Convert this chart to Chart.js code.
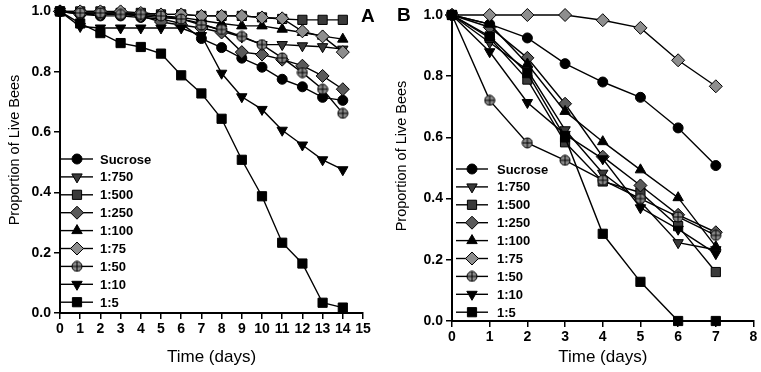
<!DOCTYPE html>
<html>
<head>
<meta charset="utf-8">
<script src="https://cdn.jsdelivr.net/npm/chart.js@4.4.0/dist/chart.umd.min.js"></script>
<style>
  body { margin: 0; background: #fff; width: 761px; height: 372px; position: relative; overflow: hidden; }
  canvas { position: absolute; top: 0; }
  #chartA { left: 0; }
  #chartB { left: 380px; }
</style>
</head>
<body>
<canvas id="chartA" width="380" height="372"></canvas>
<canvas id="chartB" width="381" height="372"></canvas>
<script>
// series names (legend order)
const seriesNames = ['Sucrose', '1:750', '1:500', '1:250', '1:100', '1:75', '1:50', '1:10', '1:5'];

// panel A: days 0-14
const daysA = [0, 1, 2, 3, 4, 5, 6, 7, 8, 9, 10, 11, 12, 13, 14];
const sucroseA = [1.00, 0.99, 0.985, 0.985, 0.98, 0.975, 0.96, 0.91, 0.88, 0.845, 0.815, 0.775, 0.75, 0.715, 0.705];
const r750A = [1.00, 0.995, 0.99, 0.99, 0.985, 0.98, 0.975, 0.96, 0.935, 0.915, 0.89, 0.89, 0.886, 0.883, 0.875];
const r500A = [1.00, 1.00, 1.00, 0.995, 0.995, 0.99, 0.99, 0.985, 0.985, 0.985, 0.98, 0.975, 0.972, 0.972, 0.972];
const r250A = [1.00, 0.99, 0.99, 0.99, 0.985, 0.965, 0.955, 0.945, 0.93, 0.865, 0.857, 0.84, 0.82, 0.786, 0.742];
const r100A = [1.00, 0.995, 0.995, 0.995, 0.99, 0.985, 0.98, 0.97, 0.96, 0.952, 0.952, 0.941, 0.93, 0.918, 0.908];
const r75A = [1.00, 1.00, 1.00, 1.00, 0.995, 0.99, 0.99, 0.985, 0.985, 0.985, 0.98, 0.977, 0.934, 0.917, 0.865];
const r50A = [1.00, 0.995, 0.995, 0.99, 0.99, 0.985, 0.975, 0.955, 0.94, 0.917, 0.89, 0.846, 0.797, 0.742, 0.662];
const r10A = [1.00, 0.95, 0.945, 0.945, 0.945, 0.945, 0.945, 0.92, 0.795, 0.717, 0.675, 0.606, 0.557, 0.508, 0.475];
const r5A = [1.00, 0.96, 0.928, 0.895, 0.882, 0.86, 0.788, 0.728, 0.644, 0.508, 0.387, 0.233, 0.164, 0.034, 0.018];

// panel B: days 0-7
const daysB = [0, 1, 2, 3, 4, 5, 6, 7];
const sucroseB = [1.00, 0.97, 0.925, 0.841, 0.781, 0.731, 0.631, 0.508];
const r750B = [1.00, 0.91, 0.82, 0.625, 0.483, 0.39, 0.256, 0.233];
const r500B = [1.00, 0.925, 0.789, 0.584, 0.456, 0.42, 0.31, 0.16];
const r250B = [1.00, 0.96, 0.86, 0.71, 0.537, 0.443, 0.347, 0.29];
const r100B = [1.00, 0.97, 0.84, 0.685, 0.586, 0.494, 0.403, 0.243];
const r75B = [1.00, 1.00, 1.00, 1.00, 0.983, 0.958, 0.852, 0.767];
const r50B = [1.00, 0.721, 0.582, 0.525, 0.46, 0.40, 0.34, 0.28];
const r10B = [1.00, 0.88, 0.714, 0.61, 0.53, 0.37, 0.30, 0.22];
const r5B = [1.00, 0.93, 0.81, 0.60, 0.285, 0.128, 0.0, 0.0];

// axis ranges
const xMaxA = 15, xMaxB = 8;
const yMin = 0, yMax = 1, yStep = 0.2;

const FONT = "'Liberation Sans', Arial, sans-serif";
Chart.defaults.font.family = FONT;
Chart.defaults.color = '#000';

// circle with cross marker for 1:50
function crossCircle() {
  const c = document.createElement('canvas');
  c.width = 12; c.height = 12;
  const g = c.getContext('2d');
  g.beginPath(); g.arc(6, 6, 5, 0, Math.PI * 2);
  g.fillStyle = '#8a8a8a'; g.fill();
  g.lineWidth = 1; g.strokeStyle = '#000'; g.stroke();
  g.beginPath(); g.moveTo(6, 1); g.lineTo(6, 11); g.moveTo(1, 6); g.lineTo(11, 6); g.stroke();
  return c;
}
const crossImg = crossCircle();

// marker look per series
const markers = [
  { style: 'circle', rot: 0, r: 5, fill: '#000' },
  { style: 'triangle', rot: 180, r: 6, fill: '#3a3a3a' },
  { style: 'rect', rot: 0, r: 6.5, fill: '#3a3a3a' },
  { style: 'rectRot', rot: 0, r: 6.5, fill: '#5a5a5a' },
  { style: 'triangle', rot: 0, r: 6, fill: '#000' },
  { style: 'rectRot', rot: 0, r: 6.5, fill: '#8e8e8e' },
  { style: crossImg, rot: 0, r: 6, fill: '#8a8a8a' },
  { style: 'triangle', rot: 180, r: 6, fill: '#000' },
  { style: 'rect', rot: 0, r: 6.5, fill: '#000' }
];

function makeSets(days, arrays) {
  return arrays.map((vals, i) => ({
    label: seriesNames[i],
    data: days.map((d, k) => ({ x: d, y: vals[k] })),
    showLine: true,
    borderColor: '#000',
    borderWidth: 1.4,
    pointStyle: markers[i].style,
    rotation: markers[i].rot,
    pointRadius: markers[i].r,
    pointBackgroundColor: markers[i].fill,
    pointBorderColor: '#000',
    pointBorderWidth: 1,
    clip: false
  })).reverse();
}

// legend drawn inside the plot, y title and panel letter
const legendPlugin = {
  id: 'inLegend',
  afterDraw(chart, args, opts) {
    const ctx = chart.ctx;
    ctx.save();
    const sets = chart.data.datasets.slice().reverse();
    sets.forEach((ds, i) => {
      const y = opts.top + i * 17.9;
      ctx.strokeStyle = '#000';
      ctx.lineWidth = 1.4;
      ctx.beginPath(); ctx.moveTo(opts.x1, y); ctx.lineTo(opts.x2, y); ctx.stroke();
      ctx.fillStyle = ds.pointBackgroundColor;
      ctx.strokeStyle = '#000';
      ctx.lineWidth = 1;
      Chart.helpers.drawPoint(ctx, {
        pointStyle: ds.pointStyle, rotation: ds.rotation, radius: ds.pointRadius, borderWidth: 1
      }, (opts.x1 + opts.x2) / 2, y);
      ctx.fillStyle = '#000';
      ctx.font = 'bold 13px ' + FONT;
      ctx.textBaseline = 'middle';
      ctx.textAlign = 'left';
      ctx.fillText(ds.label, opts.tx, y + 1);
    });
    // y axis title
    ctx.save();
    ctx.translate(opts.ytx, opts.yty);
    ctx.rotate(-Math.PI / 2);
    ctx.font = '14.5px ' + FONT;
    ctx.textAlign = 'center';
    ctx.textBaseline = 'middle';
    ctx.fillStyle = '#000';
    ctx.fillText('Proportion of Live Bees', 0, 0);
    ctx.restore();
    // panel letter
    ctx.font = 'bold 19px ' + FONT;
    ctx.textAlign = 'left';
    ctx.textBaseline = 'middle';
    ctx.fillText(opts.letter, opts.lx, opts.ly);
    ctx.restore();
  }
};

function makeChart(id, days, arrays, xMax, g) {
  return new Chart(document.getElementById(id), {
    type: 'scatter',
    data: { datasets: makeSets(days, arrays) },
    options: {
      responsive: false,
      animation: false,
      layout: { padding: { top: g.top, right: g.right, left: 0, bottom: 0 } },
      plugins: {
        legend: { display: false },
        tooltip: { enabled: false },
        inLegend: g.legend
      },
      scales: {
        x: {
          type: 'linear', min: 0, max: xMax,
          ticks: { stepSize: 1, autoSkip: false, maxRotation: 0, color: '#000',
                   font: { weight: 'bold', size: 14 }, padding: 2 },
          grid: { drawOnChartArea: false, tickLength: 6, color: '#000', lineWidth: 1.5 },
          border: { color: '#000', width: 2 },
          title: { display: true, text: 'Time (days)', color: '#000', font: { size: 17 }, padding: { top: 1 } },
          afterFit: s => { s.height = g.xh; }
        },
        y: {
          min: yMin, max: yMax,
          ticks: { stepSize: yStep, color: '#000', font: { weight: 'bold', size: 14 }, padding: 3,
                   callback: v => v.toFixed(1) },
          grid: { drawOnChartArea: false, tickLength: 6, color: '#000', lineWidth: 1.5 },
          border: { color: '#000', width: 2 },
          afterFit: s => { s.width = g.yw; }
        }
      }
    },
    plugins: [legendPlugin]
  });
}

makeChart('chartA', daysA,
  [sucroseA, r750A, r500A, r250A, r100A, r75A, r50A, r10A, r5A], xMaxA,
  { top: 8, right: 17, xh: 59, yw: 60,
    legend: { top: 159, x1: 61, x2: 93, tx: 100, letter: 'A', lx: 361, ly: 17, ytx: 15, yty: 150 } });

makeChart('chartB', daysB,
  [sucroseB, r750B, r500B, r250B, r100B, r75B, r50B, r10B, r5B], xMaxB,
  { top: 15, right: 5, xh: 51, yw: 72,
    legend: { top: 169, x1: 76, x2: 108, tx: 117, letter: 'B', lx: 17, ly: 16, ytx: 22, yty: 156 } });
</script>
</body>
</html>
